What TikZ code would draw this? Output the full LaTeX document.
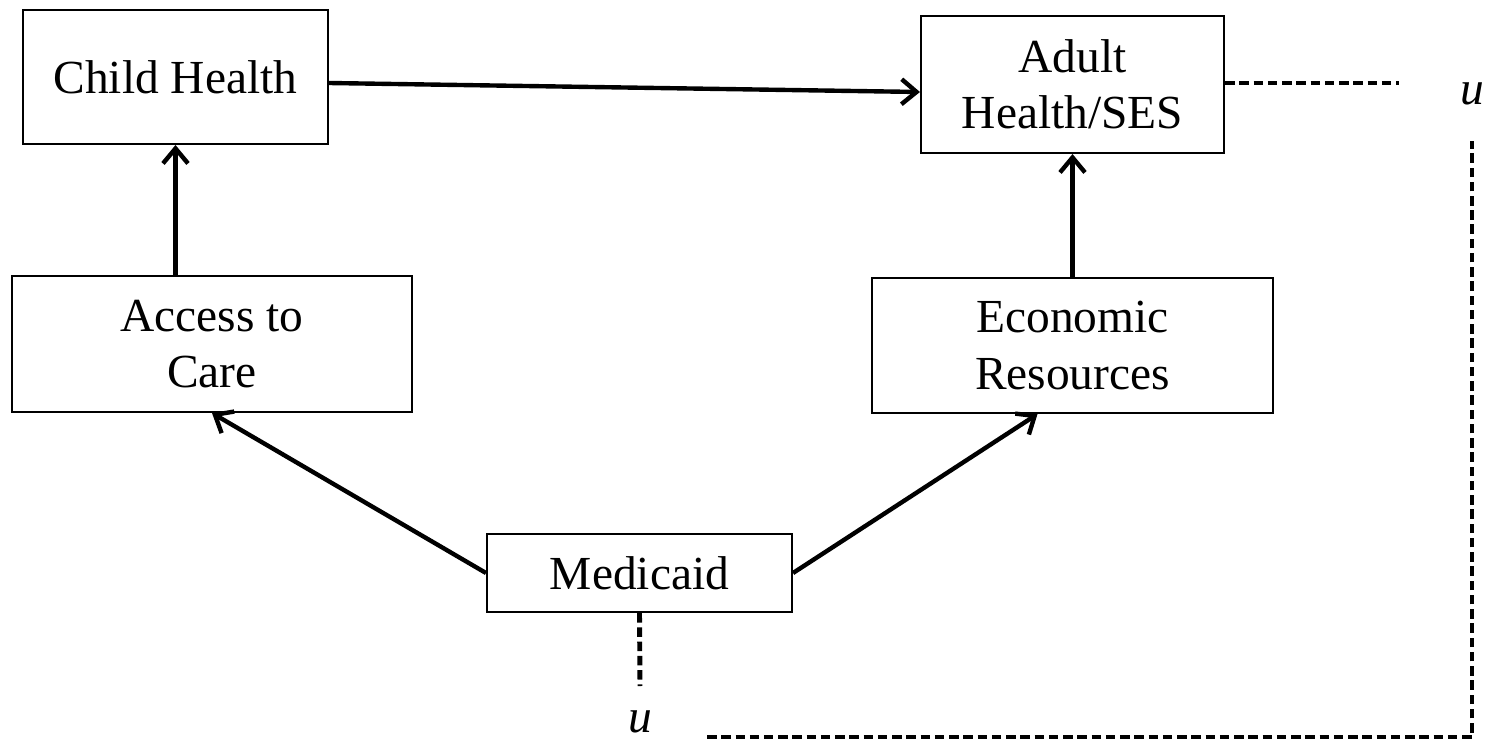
\documentclass[tikz,border=0pt]{standalone}
\usepackage{fontspec}
\setmainfont{Liberation Serif}
\usepackage{tikz}
\usetikzlibrary{arrows.meta, positioning}

\begin{document}
\begin{tikzpicture}[
  x=0.02cm, y=-0.02cm,
  box/.style={rectangle, draw=black, line width=1.2pt, align=center,
              font=\fontsize{27}{32}\selectfont, inner sep=0pt},
  arr/.style={-{Straight Barb[length=0.3cm, width=0.5cm, line width=2.5pt]}, line width=2.5pt},
  dsh/.style={line width=2.8pt, dash pattern=on 0.19cm off 0.095cm},
  lbl/.style={font=\fontsize{27}{32}\selectfont\itshape, inner sep=0pt}
]
  \useasboundingbox (0,0) rectangle (1491,744);
  \node[box, minimum width=6.1cm,  minimum height=2.68cm] (child)  at (175.5, 77)   {Child Health};
  \node[box, minimum width=6.06cm, minimum height=2.74cm] (adult)  at (1072.5, 84.5) {Adult\\Health/SES};
  \node[box, minimum width=8.0cm,  minimum height=2.72cm] (access) at (212, 344)    {Access to\\Care};
  \node[box, minimum width=8.02cm, minimum height=2.7cm]  (eco)    at (1072.5, 345.5) {Economic\\Resources};
  \node[box, minimum width=6.1cm,  minimum height=1.56cm] (med)    at (639.5, 573)  {Medicaid};
  \node[lbl] (uright) at (1472, 94)  {u};
  \node[lbl] (ubot)   at (640, 722)  {u};
  \coordinate (uend)  at (1399, 83);
  \coordinate (medu)  at (640, 686);
  \coordinate (bl)    at (707, 737);
  \coordinate (br)    at (1472, 737);
  \coordinate (tr)    at (1472, 141);
  \draw[arr] ([yshift=-0.12cm]child.east) -- ([yshift=-0.15cm]adult.west);
  \draw[arr] (access.north -| child.south) -- (child.south);
  \draw[arr] (eco.north) -- (adult.south);
  \draw[arr] (med.west) -- (access.south);
  \draw[arr] (med.east) -- ([xshift=-0.7cm]eco.south);
  \draw[dsh] (adult.east |- uend) -- (uend);
  \draw[dsh] (med.south) -- (medu);
  \draw[dsh] (bl) -- (br) -- (tr);
\end{tikzpicture}
\end{document}
